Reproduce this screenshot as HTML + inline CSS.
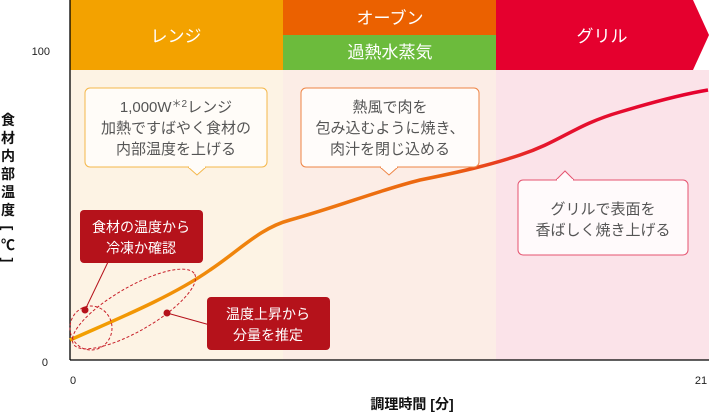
<!DOCTYPE html>
<html><head><meta charset="utf-8"><style>
body{margin:0;background:#fff;}
svg{display:block;font-family:"Liberation Sans","Noto Sans CJK JP",sans-serif;}
</style></head><body>
<svg width="709" height="412" viewBox="0 0 709 412" xmlns="http://www.w3.org/2000/svg">
<defs>
<linearGradient id="g" x1="70" y1="0" x2="705" y2="0" gradientUnits="userSpaceOnUse">
<stop offset="0" stop-color="#f3a200"/><stop offset="0.35" stop-color="#ee7a10"/><stop offset="0.6" stop-color="#eb6310"/><stop offset="0.75" stop-color="#e5152e"/><stop offset="1" stop-color="#e5002e"/>
</linearGradient>
</defs>
<rect x="70" y="70" width="213" height="290" fill="#fdf3e4"/>
<rect x="283" y="70" width="213" height="290" fill="#fcede6"/>
<rect x="496" y="70" width="213" height="290" fill="#fbe3e9"/>
<rect x="70" y="0" width="213" height="70" fill="#f3a200"/>
<rect x="283" y="0" width="213" height="35" fill="#eb6100"/>
<rect x="283" y="35" width="213" height="35" fill="#6cbb3c"/>
<polygon points="496,0 693,0 709,35 693,70 496,70" fill="#e5002e"/>
<g fill="#fff" font-size="17" text-anchor="middle">
<text x="176" y="42">レンジ</text>
<text x="390" y="24">オーブン</text>
<text x="390" y="58">過熱水蒸気</text>
<text x="602" y="42">グリル</text>
</g>
<line x1="70" y1="0" x2="70" y2="360" stroke="#000" stroke-width="1.3"/>
<line x1="70" y1="360" x2="709" y2="360" stroke="#000" stroke-width="1.3"/>
<g font-size="11" fill="#222">
<text x="50" y="55" text-anchor="end">100</text>
<text x="48" y="366" text-anchor="end">0</text>
<text x="73" y="384" text-anchor="middle">0</text>
<text x="701" y="384" text-anchor="middle">21</text>
</g>
<g font-size="14" fill="#111" font-weight="bold" text-anchor="middle">
<text x="8" y="125">食</text><text x="8" y="143">材</text><text x="8" y="161">内</text><text x="8" y="179">部</text><text x="8" y="197">温</text><text x="8" y="215">度</text>
<text x="8" y="233" transform="rotate(90 8 228)">[</text>
<text x="8" y="250">℃</text>
<text x="8" y="265" transform="rotate(90 8 260)">]</text>
<text x="412" y="409">調理時間 [分]</text>
</g>
<path d="M70,340 C110,322 170,298 210,270 C240,250 260,228 290,220 C340,206 380,190 420,180 C460,172 490,165 520,155 C560,142 575,125 620,112 C660,100 690,93 708,90" fill="none" stroke="url(#g)" stroke-width="3.5"/>
<rect x="85" y="88" width="182" height="79" rx="5" fill="#fffcf8" stroke="#f4b74a"/>
<polygon points="188,167 197,175 206,167" fill="#fffcf8" stroke="#f4b74a"/>
<rect x="189" y="165" width="16" height="3" fill="#fffcf8"/>
<g font-size="15" fill="#555" text-anchor="middle">
<text x="176" y="112">1,000W<tspan font-size="10" dy="-5">＊2</tspan><tspan dy="5">レンジ</tspan></text>
<text x="176" y="133">加熱ですばやく食材の</text>
<text x="176" y="154">内部温度を上げる</text>
</g>
<rect x="301" y="88" width="178" height="79" rx="5" fill="#fffcfa" stroke="#ee8444"/>
<polygon points="380,167 389,175 398,167" fill="#fffcfa" stroke="#ee8444"/>
<rect x="381" y="165" width="16" height="3" fill="#fffcfa"/>
<g font-size="15" fill="#555" text-anchor="middle">
<text x="390" y="112">熱風で肉を</text>
<text x="390" y="133">包み込むように焼き、</text>
<text x="390" y="154">肉汁を閉じ込める</text>
</g>
<rect x="518" y="180" width="170" height="75" rx="5" fill="#fffafb" stroke="#e5536f"/>
<polygon points="556,180 565,171 574,180" fill="#fffafb" stroke="#e5536f"/>
<rect x="557" y="179" width="16" height="3" fill="#fffafb"/>
<g font-size="15" fill="#555" text-anchor="middle">
<text x="603" y="214">グリルで表面を</text>
<text x="603" y="235">香ばしく焼き上げる</text>
</g>
<ellipse cx="91" cy="328" rx="21" ry="22" fill="none" stroke="#c8202a" stroke-dasharray="3,2"/>
<ellipse cx="134" cy="309" rx="70" ry="22" transform="rotate(-30 134 309)" fill="none" stroke="#c8202a" stroke-dasharray="3,2"/>
<line x1="85" y1="310" x2="108" y2="262" stroke="#b5121b"/>
<circle cx="85" cy="310" r="3.5" fill="#b5121b"/>
<line x1="167" y1="313" x2="210" y2="325" stroke="#b5121b"/>
<circle cx="167" cy="313" r="3.5" fill="#b5121b"/>
<rect x="80" y="210" width="123" height="53" rx="4" fill="#b5121b"/>
<rect x="207" y="297" width="123" height="53" rx="4" fill="#b5121b"/>
<g font-size="14" fill="#fff" text-anchor="middle">
<text x="141" y="232">食材の温度から</text>
<text x="141" y="253">冷凍か確認</text>
<text x="268" y="319">温度上昇から</text>
<text x="268" y="340">分量を推定</text>
</g>
</svg>
</body></html>
